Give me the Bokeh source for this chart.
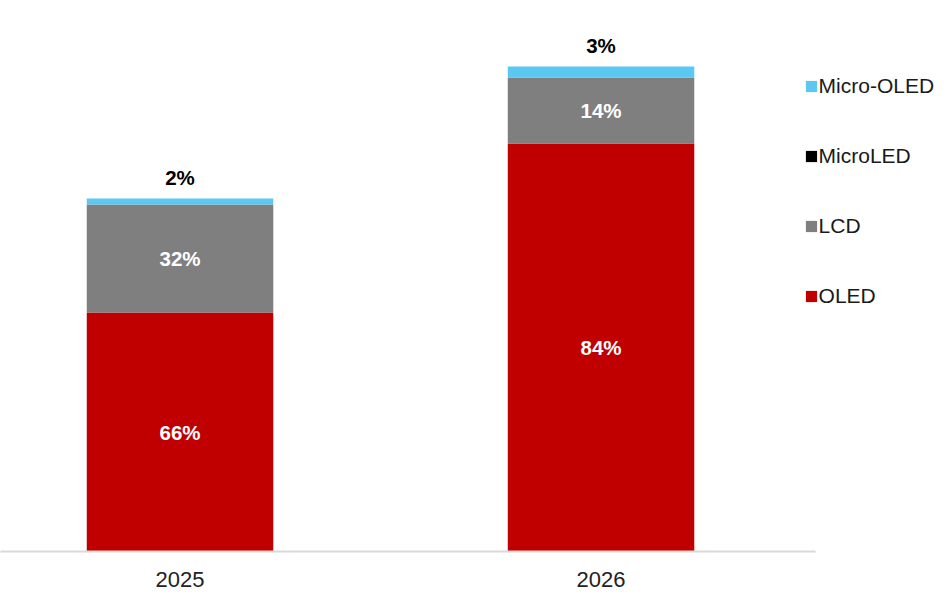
from bokeh.plotting import figure
from bokeh.models import ColumnDataSource, FixedTicker, Legend, LegendItem, Range1d
from bokeh.core.properties import value
from bokeh.embed import file_html
from bokeh.resources import INLINE

# ---- data ----
years = ["2025", "2026"]
oled = [23.9, 40.8]
lcd = [10.8, 6.6]
microled = [0.0, 0.0]
micro_oled = [0.6, 1.1]
oled_labels = ["66%", "84%"]
lcd_labels = ["32%", "14%"]
top_labels = ["2%", "3%"]

series = ["oled", "lcd", "microled", "micro_oled"]
names = ["OLED", "LCD", "MicroLED", "Micro-OLED"]
colors = ["#C00000", "#7F7F7F", "#000000", "#5BC8F2"]

xs = list(range(len(years)))
src = ColumnDataSource(dict(x=xs, oled=oled, lcd=lcd, microled=microled, micro_oled=micro_oled))

FONT = "Liberation Sans"

X0, X1 = -0.4264, 1.8206
p = figure(width=946, height=598, output_backend="svg", toolbar_location=None,
           x_range=Range1d(X0, X1), y_range=Range1d(0, 55.1),
           y_axis_location=None, min_border_left=0, min_border_top=0,
           min_border_right=0, min_border_bottom=47)
p.outline_line_color = None
p.xgrid.visible = False
p.ygrid.visible = False

rs = p.vbar_stack(series, x="x", width=0.443, color=colors, source=src, line_color=None)

# segment labels
oled_mid = [o / 2 for o in oled]
lcd_mid = [o + l / 2 for o, l in zip(oled, lcd)]
totals = [o + l + m + mo for o, l, m, mo in zip(oled, lcd, microled, micro_oled)]

p.text(x=xs, y=oled_mid, text=oled_labels, text_color="white", text_font=value(FONT),
       text_font_style="bold", text_font_size="20.5px", text_align="center", text_baseline="middle")
p.text(x=xs, y=lcd_mid, text=lcd_labels, text_color="white", text_font=value(FONT),
       text_font_style="bold", text_font_size="20.5px", text_align="center", text_baseline="middle")
p.text(x=xs, y=totals, text=top_labels, text_color="black", text_font=value(FONT),
       text_font_style="bold", text_font_size="20.5px", text_align="center", text_baseline="middle",
       y_offset=-21)

# x axis (line stops before the legend)
ax = p.xaxis[0]
ax.bounds = (X0, X0 + 815 / 421)
ax.ticker = FixedTicker(ticks=xs)
ax.major_label_overrides = {i: y for i, y in zip(xs, years)}
ax.axis_line_color = "#D9D9D9"
ax.axis_line_width = 2
ax.major_tick_line_color = None
ax.minor_tick_line_color = None
ax.major_tick_out = 0
ax.major_tick_in = 0
ax.major_label_standoff = 20
ax.major_label_text_font = FONT
ax.major_label_text_font_size = "22px"
ax.major_label_text_color = "#222222"

# legend (reverse order)
items = [LegendItem(label=n, renderers=[r]) for n, r in zip(names, rs)][::-1]
legend = Legend(items=items, location=(803.6, 243), padding=0, margin=0, spacing=46,
                glyph_width=14, glyph_height=14, label_standoff=1,
                label_text_font=FONT, label_text_font_size="21px", label_text_color="#1A1A1A",
                border_line_color=None, background_fill_alpha=0)
p.add_layout(legend, "center")

open("out.html", "w").write(file_html(p, INLINE))
